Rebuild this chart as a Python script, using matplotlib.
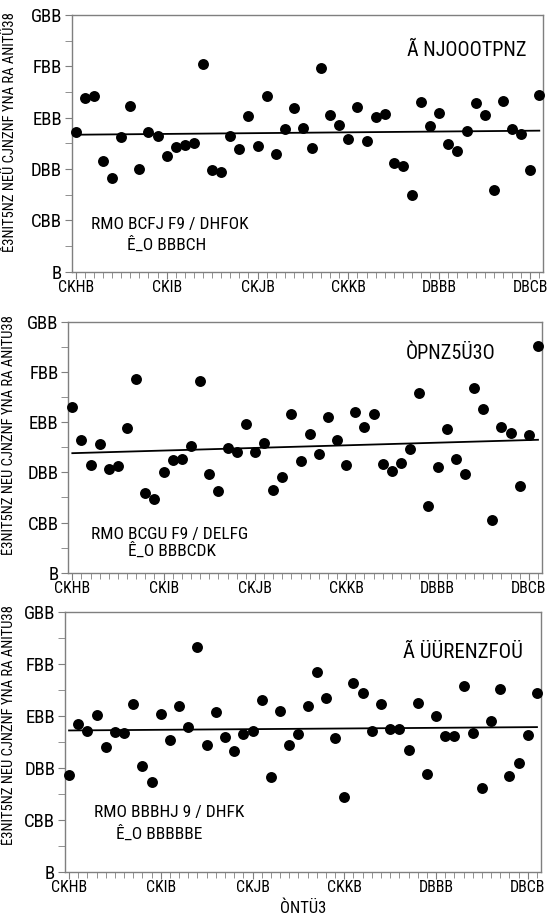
import numpy as np
import matplotlib
matplotlib.use("Agg")
import matplotlib.pyplot as plt
from matplotlib import font_manager
from matplotlib.ticker import MultipleLocator

# pick a narrow face if one is installed
_names = {f.name for f in font_manager.fontManager.ttflist}
_cands = ['Liberation Sans Narrow', 'Roboto Condensed', 'Open Sans Condensed',
          'DejaVu Serif Condensed', 'DejaVu Sans Condensed', 'Liberation Serif']
_main = next((c for c in _cands if c in _names), 'DejaVu Serif')
plt.rcParams['font.family'] = [_main, 'DejaVu Sans']

years = list(range(1960, 2012))

panel1_values = [272, 338, 342, 216, 183, 263, 323, 200, 272, 265, 226, 243, 247, 251,
                 405, 198, 195, 265, 239, 304, 245, 342, 230, 278, 319, 280, 241, 397,
                 305, 286, 259, 321, 255, 302, 307, 212, 206, 150, 331, 284, 309, 249,
                 235, 274, 329, 305, 160, 333, 278, 269, 198, 344]
panel2_values = [331, 264, 215, 256, 207, 212, 289, 385, 158, 147, 200, 224, 226, 252,
                 382, 196, 163, 248, 240, 296, 241, 258, 165, 191, 317, 222, 277, 236,
                 310, 264, 215, 321, 290, 317, 217, 202, 219, 247, 357, 132, 210, 286,
                 226, 197, 367, 327, 105, 290, 278, 173, 274, 452]
panel3_values = [187, 285, 271, 302, 240, 269, 267, 323, 204, 173, 304, 254, 319, 279,
                 433, 244, 308, 260, 233, 265, 271, 331, 183, 310, 244, 265, 319, 385,
                 335, 258, 144, 364, 344, 271, 323, 275, 275, 235, 325, 189, 300, 262,
                 262, 358, 267, 162, 290, 352, 185, 210, 264, 344]

y_ticks = [0, 100, 200, 300, 400, 500]
y_tick_labels = ["B", "CBB", "DBB", "EBB", "FBB", "GBB"]
x_ticks = [1960, 1970, 1980, 1990, 2000, 2010]
x_tick_labels = ["CKHB", "CKIB", "CKJB", "CKKB", "DBBB", "DBCB"]

panel_titles = ["Ã NJOOOTPNZ", "ÒPNZ5Ü3O", "Ã ÜÜRENZFOÜ"]
eq_lines = [("RMO BCFJ F9 / DHFOK", "Ê_O BBBCH"),
            ("RMO BCGU F9 / DELFG", "Ê_O BBBCDK"),
            ("RMO BBBHJ 9 / DHFK", "Ê_O BBBBBE")]
y_label = "Ê3NIT5NZ NEÜ CJNZNF YNA RA ANITÜ38"
x_label = "ÒNTÜ3"

W, H = 551, 922
fig = plt.figure(figsize=(W / 100, H / 100), dpi=100)
renderer = fig.canvas.get_renderer()


def width_fs(s, target_px):
    p = fig.text(0, 0, s, fontsize=13)
    w = p.get_window_extent(renderer=renderer).width
    p.remove()
    return 13 * target_px / w


# axes boxes in pixels: left, right, top, bottom
boxes = [(71.7, 543.3, 15, 271.7), (68.3, 542, 321.7, 572.7), (65, 541, 612, 872)]
title_pos = [(467, 50), (451, 353), (463, 653)]
title_fs = [14.5, 14.5, 15]
eq_pos = [((170, 224), (167, 245)), ((170, 534), (172, 551)), ((169, 812), (159, 834))]
ylabel_pos = [(10, 132), (9, 435), (9, 725)]

series = [panel1_values, panel2_values, panel3_values]
frame_color = "#7f7f7f"

tick_fs = width_fs("CBB", 31.0)
xtick_fs = width_fs("CKHB", 36.0)

for i in range(3):
    l, r, t, b = boxes[i]
    ax = fig.add_axes([l / W, 1 - b / H, (r - l) / W, (b - t) / H])
    vals = np.array(series[i], dtype=float)
    yrs = np.array(years, dtype=float)
    ax.scatter(yrs, vals, s=62, color="black", zorder=3, clip_on=False, linewidths=0)
    coef = np.polyfit(yrs, vals, 1)
    ax.plot([yrs[0], yrs[-1]], np.polyval(coef, [yrs[0], yrs[-1]]), color="black",
            lw=1.3, zorder=2)
    ax.set_xlim(1959.56, 2011.44)
    ax.set_ylim(0, 500)
    ax.set_yticks(y_ticks)
    ax.set_yticklabels(y_tick_labels, fontsize=tick_fs)
    ax.yaxis.set_minor_locator(MultipleLocator(50))
    ax.set_xticks(x_ticks)
    ax.set_xticklabels(x_tick_labels, fontsize=xtick_fs)
    ax.xaxis.set_minor_locator(MultipleLocator(1))
    ax.tick_params(axis="both", which="both", direction="out", color=frame_color)
    ax.tick_params(axis="y", which="major", length=5, pad=2)
    ax.tick_params(axis="y", which="minor", length=5)
    ax.tick_params(axis="x", which="major", length=5, pad=1)
    ax.tick_params(axis="x", which="minor", length=4)
    for sp in ax.spines.values():
        sp.set_color(frame_color)
        sp.set_linewidth(1.0)
    tx, ty = title_pos[i]
    fig.text(tx / W, 1 - ty / H, panel_titles[i], fontsize=title_fs[i],
             ha="center", va="center")
    (e1x, e1y), (e2x, e2y) = eq_pos[i]
    fig.text(e1x / W, 1 - e1y / H, eq_lines[i][0], fontsize=12.5, ha="center", va="center")
    fig.text(e2x / W, 1 - e2y / H, eq_lines[i][1], fontsize=12.5, ha="center", va="center")
    lx, ly = ylabel_pos[i]
    fig.text(lx / W, 1 - ly / H, y_label, fontsize=10.5, rotation=90,
             ha="center", va="center")

fig.text(303 / W, 1 - 908 / H, x_label, fontsize=12, ha="center", va="center")

fig.savefig("out.png", dpi=100)
